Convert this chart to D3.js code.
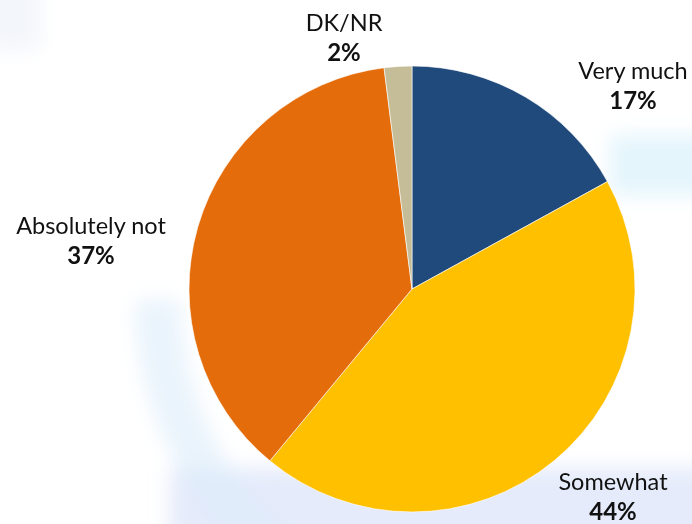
<!DOCTYPE html>
<meta charset="utf-8">
<script src="https://cdn.jsdelivr.net/npm/d3@7"></script>
<style>
  body { margin: 0; background: #fff; }
  text { font-family: Lato, "Noto Sans", sans-serif; fill: #111; }
</style>
<body>
<div id="chart"></div>
<script>
var categories = ["Very much", "Somewhat", "Absolutely not", "DK/NR"]
var values = [17, 44, 37, 2]
var colors = ["#204a7c", "#ffc000", "#e46c0a", "#c4bd97"]
// label anchor points (centre of first line baseline)
var labelPos = [[633, 79], [613, 490], [91, 234], [344, 31]]

var width = 692, height = 524
var cx = 412, cy = 289, radius = 223

var svg = d3.select("#chart").append("svg")
  .attr("width", width)
  .attr("height", height)

// faint background wash
var defs = svg.append("defs")
var blur = defs.append("filter").attr("id", "blur")
  .attr("x", "-50%").attr("y", "-50%").attr("width", "200%").attr("height", "200%")
blur.append("feGaussianBlur").attr("stdDeviation", 10)

var bg = svg.append("g").attr("filter", "url(#blur)")
bg.append("rect").attr("x", 610).attr("y", 135).attr("width", 110).attr("height", 60)
  .attr("fill", "#d8f1fb").attr("opacity", 0.7)
bg.append("rect").attr("x", 170).attr("y", 468).attr("width", 560).attr("height", 80)
  .attr("fill", "#dfe6fa").attr("opacity", 0.8)
bg.append("path")
  .attr("d", d3.arc().innerRadius(300).outerRadius(345).startAngle(-Math.PI * 0.82).endAngle(-Math.PI * 0.5)())
  .attr("transform", "translate(480,300)")
  .attr("fill", "#dcecfa").attr("opacity", 0.6)
bg.append("rect").attr("x", -20).attr("y", -20).attr("width", 60).attr("height", 70)
  .attr("fill", "#e8eef8").attr("opacity", 0.5)

var pie = d3.pie().sort(null).value(function(d) { return d })
var arc = d3.arc().innerRadius(0).outerRadius(radius)

var g = svg.append("g").attr("transform", "translate(" + cx + "," + cy + ")")
g.selectAll("path")
  .data(pie(values))
  .enter()
  .append("path")
  .attr("d", arc)
  .attr("fill", function(d, i) { return colors[i] })
  .attr("stroke", "#fff")
  .attr("stroke-width", 0.6)

for (var i = 0; i < categories.length; i++) {
  var t = svg.append("text")
    .attr("x", labelPos[i][0])
    .attr("y", labelPos[i][1])
    .attr("text-anchor", "middle")
    .style("font-size", "23.5px")
  t.append("tspan").text(categories[i])
  t.append("tspan")
    .attr("x", labelPos[i][0])
    .attr("dy", 30)
    .style("font-weight", "bold")
    .style("font-size", "24px")
    .text(values[i] + "%")
}
</script>
</body>
